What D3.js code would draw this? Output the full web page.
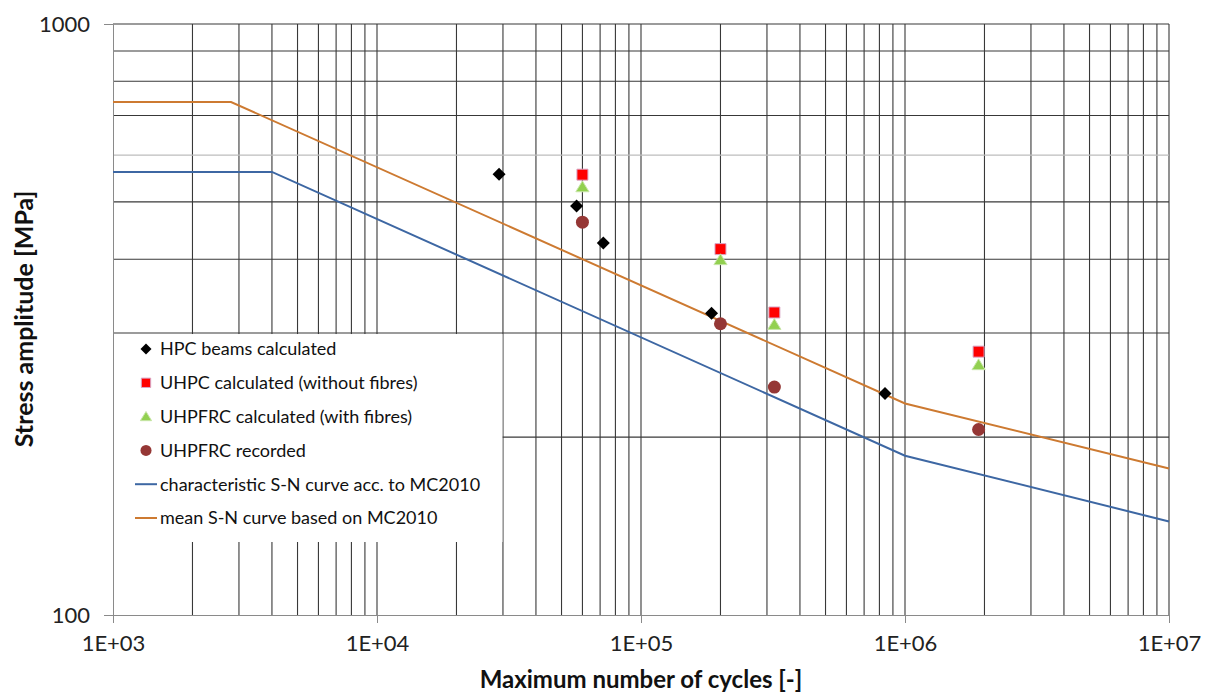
<!DOCTYPE html>
<html>
<head>
<meta charset="utf-8">
<script src="https://cdn.jsdelivr.net/npm/d3@7"></script>
<style>
  body { margin: 0; background: #fff; }
  svg { display: block; font-family: Lato, "Open Sans", sans-serif; }
</style>
</head>
<body>
<svg id="chart"></svg>
<script>
// tick labels
const xTicks = [1e3, 1e4, 1e5, 1e6, 1e7];
const xTickLabels = ["1E+03", "1E+04", "1E+05", "1E+06", "1E+07"];
const yTicks = [100, 1000];
const yTickLabels = ["100", "1000"];

// series
const hpcN = [2.9e4, 5.7e4, 7.2e4, 1.85e5, 8.4e5];
const hpcS = [557, 492, 426, 324, 237];
const uhpcN = [6e4, 2e5, 3.2e5, 1.9e6];
const uhpcS = [556, 416, 325, 279];
const uhpfrcCalcN = [6e4, 2e5, 3.2e5, 1.9e6];
const uhpfrcCalcS = [530, 399, 310, 265];
const uhpfrcRecN = [6e4, 2e5, 3.2e5, 1.9e6];
const uhpfrcRecS = [462, 311, 243, 206];
const charN = [1e3, 4e3, 1e6, 1e7];
const charS = [562, 562, 186, 144];
const meanN = [1e3, 2.8e3, 1e6, 1e7];
const meanS = [738, 738, 228, 177];

const legendNames = [
  "HPC beams calculated",
  "UHPC calculated (without fibres)",
  "UHPFRC calculated (with fibres)",
  "UHPFRC recorded",
  "characteristic S-N curve acc. to MC2010",
  "mean S-N curve based on MC2010"
];

let width = 1209, height = 696;
var margin = {top: 24, right: 40, bottom: 81, left: 113};

let svg = d3.select("#chart")
    .attr("width", width)
    .attr("height", height);

const xScale = d3.scaleLog()
    .domain([1e3, 1e7])
    .range([margin.left, width - margin.right]);

const yScale = d3.scaleLog()
    .domain([100, 1000])
    .range([height - margin.bottom, margin.top]);

const gridColor = "#383838";

// minor grid values (excel style: 2..9 per decade)
let xGrid = [];
for (let d = 1e3; d < 1e7; d *= 10) {
    for (let m = 1; m <= 9; m++) xGrid.push(d * m);
}
xGrid.push(1e7);
let yGrid = [];
for (let m = 2; m <= 10; m++) yGrid.push(100 * m);

// gridlines
svg.append("g")
    .selectAll("line")
    .data(xGrid.slice(1))
    .enter()
    .append("line")
        .attr("x1", d => xScale(d))
        .attr("x2", d => xScale(d))
        .attr("y1", yScale(100))
        .attr("y2", yScale(1000))
        .attr("stroke", gridColor)
        .attr("stroke-width", 1.1);

svg.append("g")
    .selectAll("line")
    .data(yGrid)
    .enter()
    .append("line")
        .attr("x1", xScale(1e3))
        .attr("x2", xScale(1e7))
        .attr("y1", d => yScale(d))
        .attr("y2", d => yScale(d))
        .attr("stroke", d => d == 600 ? "#bdbdbd" : gridColor)
        .attr("stroke-width", 1.1);

// axes
svg.append("g")
    .attr("transform", "translate(" + xScale(1e3) + ",0)")
    .call(d3.axisLeft(yScale).tickValues(yTicks).tickFormat((d, i) => yTickLabels[i]).tickSizeOuter(0).tickSize(9).tickPadding(14))
    .call(g => g.selectAll("path, line").attr("stroke", "#8a8a8a"))
    .call(g => g.selectAll("text").style("font-size", "22px").attr("fill", "#222").attr("font-family", "Lato"));

svg.append("g")
    .attr("transform", "translate(0," + yScale(100) + ")")
    .call(d3.axisBottom(xScale).tickValues(xTicks).tickFormat((d, i) => xTickLabels[i]).tickSizeOuter(0).tickSize(8).tickPadding(12))
    .call(g => g.selectAll("path, line").attr("stroke", "#8a8a8a"))
    .call(g => g.selectAll("text").style("font-size", "22px").attr("fill", "#222").attr("font-family", "Lato"));

// S-N curves
const line = d3.line()
    .x(d => xScale(d[0]))
    .y(d => yScale(d[1]));

svg.append("path")
    .datum(charN.map((n, i) => [n, charS[i]]))
    .attr("d", line)
    .attr("fill", "none")
    .attr("stroke", "#3d67a3")
    .attr("stroke-width", 2);

svg.append("path")
    .datum(meanN.map((n, i) => [n, meanS[i]]))
    .attr("d", line)
    .attr("fill", "none")
    .attr("stroke", "#cd7a31")
    .attr("stroke-width", 2);

// marker shapes
const shapes = {
    diamond: (s) => `M0,${-s}L${s},0L0,${s}L${-s},0Z`,
    square: (s) => `M${-s},${-s}H${s}V${s}H${-s}Z`,
    triangle: (s) => `M0,${-s}L${s * 1.1},${s * 0.8}L${-s * 1.1},${s * 0.8}Z`
};

const series = [
    {n: hpcN, s: hpcS, type: "diamond", size: 6.5, fill: "#000", stroke: "none"},
    {n: uhpcN, s: uhpcS, type: "square", size: 5.5, fill: "#ff0000", stroke: "#d9a6c6"},
    {n: uhpfrcCalcN, s: uhpfrcCalcS, type: "triangle", size: 6, fill: "#92d050", stroke: "#c8e6a8"},
    {n: uhpfrcRecN, s: uhpfrcRecS, type: "circle", size: 6.5, fill: "#953735", stroke: "none"}
];

function drawMarker(g, type, size, fill, stroke) {
    if (type == "circle") {
        g.append("circle").attr("r", size).attr("fill", fill).attr("stroke", stroke);
    } else {
        g.append("path").attr("d", shapes[type](size)).attr("fill", fill).attr("stroke", stroke).attr("stroke-width", 1);
    }
}

series.forEach(ser => {
    ser.n.forEach((n, i) => {
        let g = svg.append("g")
            .attr("transform", "translate(" + xScale(n) + "," + yScale(ser.s[i]) + ")");
        drawMarker(g, ser.type, ser.size, ser.fill, ser.stroke);
    });
});

// legend (white box over the grid)
let legend = svg.append("g");
legend.append("rect")
    .attr("x", xScale(1e3) + 1)
    .attr("y", yScale(300) + 1)
    .attr("width", xScale(3e4) - xScale(1e3) - 1.5)
    .attr("height", 541 - yScale(300))
    .attr("fill", "#fff");

legendNames.forEach((name, i) => {
    let y = 349 + i * 33.8;
    let g = legend.append("g").attr("transform", "translate(146," + y + ")");
    if (i < 4) {
        let ser = series[i];
        drawMarker(g, ser.type, ser.size * 0.85, ser.fill, ser.stroke);
    } else {
        g.append("line")
            .attr("x1", -11).attr("x2", 11)
            .attr("stroke", i == 4 ? "#3d67a3" : "#cd7a31")
            .attr("stroke-width", 2);
    }
    legend.append("text")
        .attr("x", 160)
        .attr("y", y)
        .attr("dy", "0.35em")
        .style("font-size", "18px")
        .attr("fill", "#111")
        .text(name);
});

// axis titles
svg.append("text")
    .attr("x", (xScale(1e3) + xScale(1e7)) / 2)
    .attr("y", 680)
    .attr("dy", "0.35em")
    .attr("text-anchor", "middle")
    .style("font-size", "24px")
    .style("font-weight", "bold")
    .attr("fill", "#111")
    .text("Maximum number of cycles [-]");

svg.append("text")
    .attr("transform", "translate(24,319) rotate(-90)")
    .attr("dy", "0.35em")
    .attr("text-anchor", "middle")
    .style("font-size", "25px")
    .style("font-weight", "bold")
    .attr("fill", "#111")
    .text("Stress amplitude [MPa]");
</script>
</body>
</html>
